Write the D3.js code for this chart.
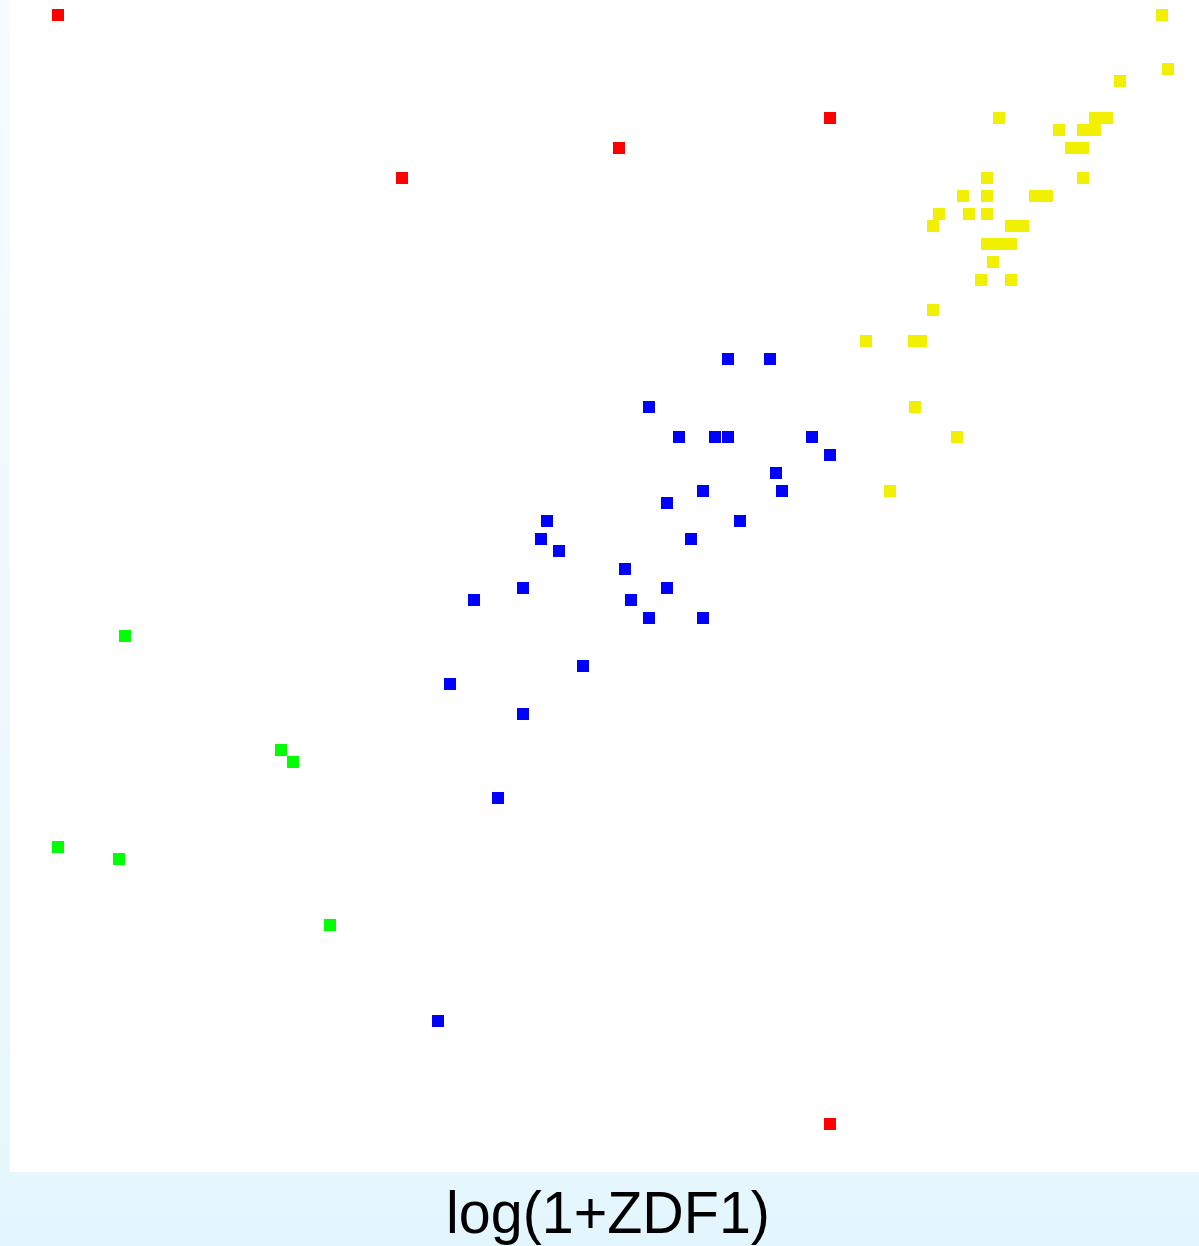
<!DOCTYPE html>
<html>
<head>
<meta charset="utf-8">
<script src="https://cdn.jsdelivr.net/npm/d3@7"></script>
<style>
  html, body { margin: 0; padding: 0; background: #fff; }
  svg { display: block; }
</style>
</head>
<body>
<svg id="chart" width="1199" height="1246"></svg>
<script>
// ---- data (x = log(1+ZDF1), y = second variable) ----
const redX    = [0.48, 8.20, 6.09, 3.92, 8.20];
const redY    = [11.57, 10.54, 10.24, 9.94, 0.48];

const greenX  = [1.15, 2.71, 2.83, 0.48, 1.09, 3.20];
const greenY  = [5.36, 4.22, 4.10, 3.25, 3.13, 2.47];

const blueX   = [7.18, 7.60, 6.39, 6.69, 7.05, 7.18, 8.02, 8.20, 7.66, 6.93,
                 7.72, 6.57, 5.37, 7.30, 5.31, 6.81, 5.49, 6.15, 5.13, 6.57,
                 4.64, 6.21, 6.39, 6.93, 5.73, 4.40, 5.13, 4.88, 4.28];
const blueY   = [8.13, 8.13, 7.65, 7.35, 7.35, 7.35, 7.35, 7.17, 6.99, 6.81,
                 6.81, 6.69, 6.51, 6.51, 6.33, 6.33, 6.21, 6.03, 5.84, 5.84,
                 5.72, 5.72, 5.54, 5.54, 5.06, 4.88, 4.58, 3.74, 1.51];

const yellowX = [11.52, 11.58, 11.10, 9.89, 10.85, 10.97, 10.49, 10.73, 10.85, 10.61,
                 10.73, 9.77, 10.73, 9.53, 9.77, 10.25, 10.37, 9.29, 9.59, 9.77,
                 9.23, 10.01, 10.13, 9.77, 9.89, 10.01, 9.83, 9.71, 10.01, 9.23,
                 8.56, 9.04, 9.11, 9.05, 9.47, 8.80];
const yellowY = [11.57, 11.03, 10.91, 10.54, 10.54, 10.54, 10.42, 10.42, 10.42, 10.24,
                 10.24, 9.94, 9.94, 9.76, 9.76, 9.76, 9.76, 9.58, 9.58, 9.58,
                 9.46, 9.46, 9.46, 9.28, 9.28, 9.28, 9.10, 8.92, 8.92, 8.62,
                 8.31, 8.31, 8.31, 7.65, 7.35, 6.81];

const xDomain = [0, 11.89];
const yDomain = [0, 11.72];
const xLabel = "log(1+ZDF1)";

const series = [
  { name: "red",    color: "#ff0000", xs: redX,    ys: redY },
  { name: "green",  color: "#00ff00", xs: greenX,  ys: greenY },
  { name: "blue",   color: "#0000ff", xs: blueX,   ys: blueY },
  { name: "yellow", color: "#f0f000", xs: yellowX, ys: yellowY }
];

// ---- layout ----
const W = 1199, H = 1246;
const plot = { left: 10, top: 0, right: 1199, bottom: 1172 };
const markSize = 12;

const svg = d3.select("#chart");

const defs = svg.append("defs");
const grad = defs.append("linearGradient")
  .attr("id", "bg").attr("x1", 0).attr("y1", 0).attr("x2", 0).attr("y2", 1);
grad.append("stop").attr("offset", "0%").attr("stop-color", "#f8fcff");
grad.append("stop").attr("offset", "100%").attr("stop-color", "#e4f6fd");

svg.append("rect").attr("width", W).attr("height", H).attr("fill", "url(#bg)");

svg.append("rect")
  .attr("x", plot.left).attr("y", plot.top)
  .attr("width", plot.right - plot.left).attr("height", plot.bottom - plot.top)
  .attr("fill", "#ffffff");

const x = d3.scaleLinear().domain(xDomain).range([plot.left, plot.right]);
const y = d3.scaleLinear().domain(yDomain).range([plot.bottom, plot.top]);

series.forEach(s => {
  const pts = s.xs.map((v, i) => ({ x: v, y: s.ys[i] }));
  svg.append("g").attr("class", "series-" + s.name)
    .selectAll("rect").data(pts).join("rect")
    .attr("x", d => Math.round(x(d.x) - markSize / 2))
    .attr("y", d => Math.round(y(d.y) - markSize / 2))
    .attr("width", markSize).attr("height", markSize)
    .attr("fill", s.color)
    .attr("shape-rendering", "crispEdges");
});

svg.append("text")
  .attr("x", 446)
  .attr("y", 1233)
  .attr("textLength", 324)
  .attr("lengthAdjust", "spacingAndGlyphs")
  .attr("font-family", "'Liberation Sans', Arial, sans-serif")
  .attr("font-size", 60)
  .attr("fill", "#000")
  .text(xLabel);
</script>
</body>
</html>
